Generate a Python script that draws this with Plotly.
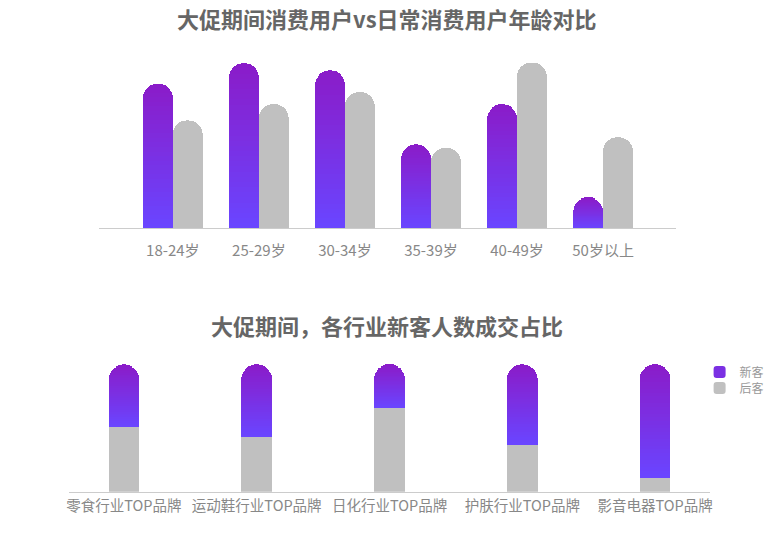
import plotly.graph_objects as go

# ---------------- data ----------------
age_groups = ["18-24岁", "25-29岁", "30-34岁", "35-39岁", "40-49岁", "50岁以上"]
promo_users = [20.5, 23.4, 22.4, 11.9, 17.6, 4.3]   # 大促期间消费用户 (%)
daily_users = [15.3, 17.6, 19.3, 11.4, 23.5, 12.9]  # 日常消费用户 (%)

industries = ["零食行业TOP品牌", "运动鞋行业TOP品牌", "日化行业TOP品牌", "护肤行业TOP品牌", "影音电器TOP品牌"]
new_customers = [49, 57, 34, 63, 89]   # 新客 (%)
old_customers = [51, 43, 66, 37, 11]   # 后客 (%)

# ---------------- style ----------------
TOP_RGB = (138, 28, 201)
BOTTOM_RGB = (106, 69, 255)
GRAY = "#c0c0c0"
N_SLICES = 32
W, H = 780, 546


def grad(i):
    t = i / (N_SLICES - 1)
    r, g, b = (round(BOTTOM_RGB[k] + (TOP_RGB[k] - BOTTOM_RGB[k]) * t) for k in range(3))
    return f"rgb({r},{g},{b})"


fig = go.Figure()

# top chart: purple gradient bars made of stacked slices
bw1 = 0.346
for i in range(N_SLICES):
    fig.add_trace(go.Bar(
        x=age_groups, y=[v / N_SLICES for v in promo_users],
        xaxis="x", yaxis="y", offset=-bw1, width=bw1,
        marker=dict(color=grad(i), line=dict(width=0)),
        showlegend=False, hoverinfo="skip", name="大促期间消费用户",
    ))
fig.add_trace(go.Bar(
    x=age_groups, y=daily_users, xaxis="x2", yaxis="y",
    offset=0, width=bw1, marker=dict(color=GRAY, line=dict(width=0)),
    showlegend=False, name="日常消费用户",
))

# bottom chart: gray base + purple gradient on top
bw2 = 0.232
fig.add_trace(go.Bar(
    x=industries, y=old_customers, xaxis="x3", yaxis="y3",
    width=bw2, marker=dict(color=GRAY, line=dict(width=0)),
    name="后客", showlegend=True, legend="legend2",
))
for i in range(N_SLICES):
    fig.add_trace(go.Bar(
        x=industries, y=[v / N_SLICES for v in new_customers],
        xaxis="x3", yaxis="y3", width=bw2,
        marker=dict(color=grad(i), line=dict(width=0)),
        name="新客", showlegend=(i == N_SLICES // 2), legend="legend",
        hoverinfo="skip",
    ))


def py(px):
    return 1 - px / H


common_x = dict(type="category", showgrid=False, zeroline=False, ticks="",
                fixedrange=True)
legend_common = dict(x=702 / W, xanchor="left", yanchor="middle",
                     font=dict(size=12, color="#999999"), bgcolor="rgba(0,0,0,0)",
                     itemwidth=30, tracegroupgap=0)

fig.update_layout(
    width=W, height=H, margin=dict(l=0, r=0, t=0, b=0),
    paper_bgcolor="white", plot_bgcolor="white",
    barmode="stack", barcornerradius="50%",
    font=dict(family="Noto Sans CJK SC, Noto Sans, sans-serif", color="#888888"),
    xaxis=dict(**common_x, domain=[97 / W, 678 / W], range=[-0.855, 5.845], anchor="y",
               showline=True, linecolor="#cccccc", linewidth=1,
               tickfont=dict(size=15, color="#888888"), ticklabelstandoff=9),
    xaxis2=dict(**common_x, domain=[97 / W, 678 / W], range=[-0.855, 5.845], anchor="y",
                overlaying="x", visible=False),
    yaxis=dict(domain=[py(228.3), py(50)], range=[0, 25.29], visible=False, fixedrange=True),
    xaxis3=dict(**common_x, domain=[67 / W, 712 / W], range=[-0.41, 4.41], anchor="y3",
                showline=True, linecolor="#cccccc", linewidth=1,
                tickfont=dict(size=14.5, color="#888888"), ticklabelstandoff=1),
    yaxis3=dict(domain=[py(491.7), py(350)], range=[0, 111.2], visible=False, fixedrange=True),
    legend=dict(**legend_common, y=py(372)),
    legend2=dict(**legend_common, y=py(388)),
    annotations=[
        dict(text="<b>大促期间消费用户vs日常消费用户年龄对比</b>", x=386.5 / W, y=py(18),
             xref="paper", yref="paper", showarrow=False, xanchor="center", yanchor="middle",
             font=dict(size=22, color="#666666")),
        dict(text="<b>大促期间，各行业新客人数成交占比</b>", x=387 / W, y=py(325),
             xref="paper", yref="paper", showarrow=False, xanchor="center", yanchor="middle",
             font=dict(size=22, color="#666666")),
    ],
)

fig.write_html("out.html")
